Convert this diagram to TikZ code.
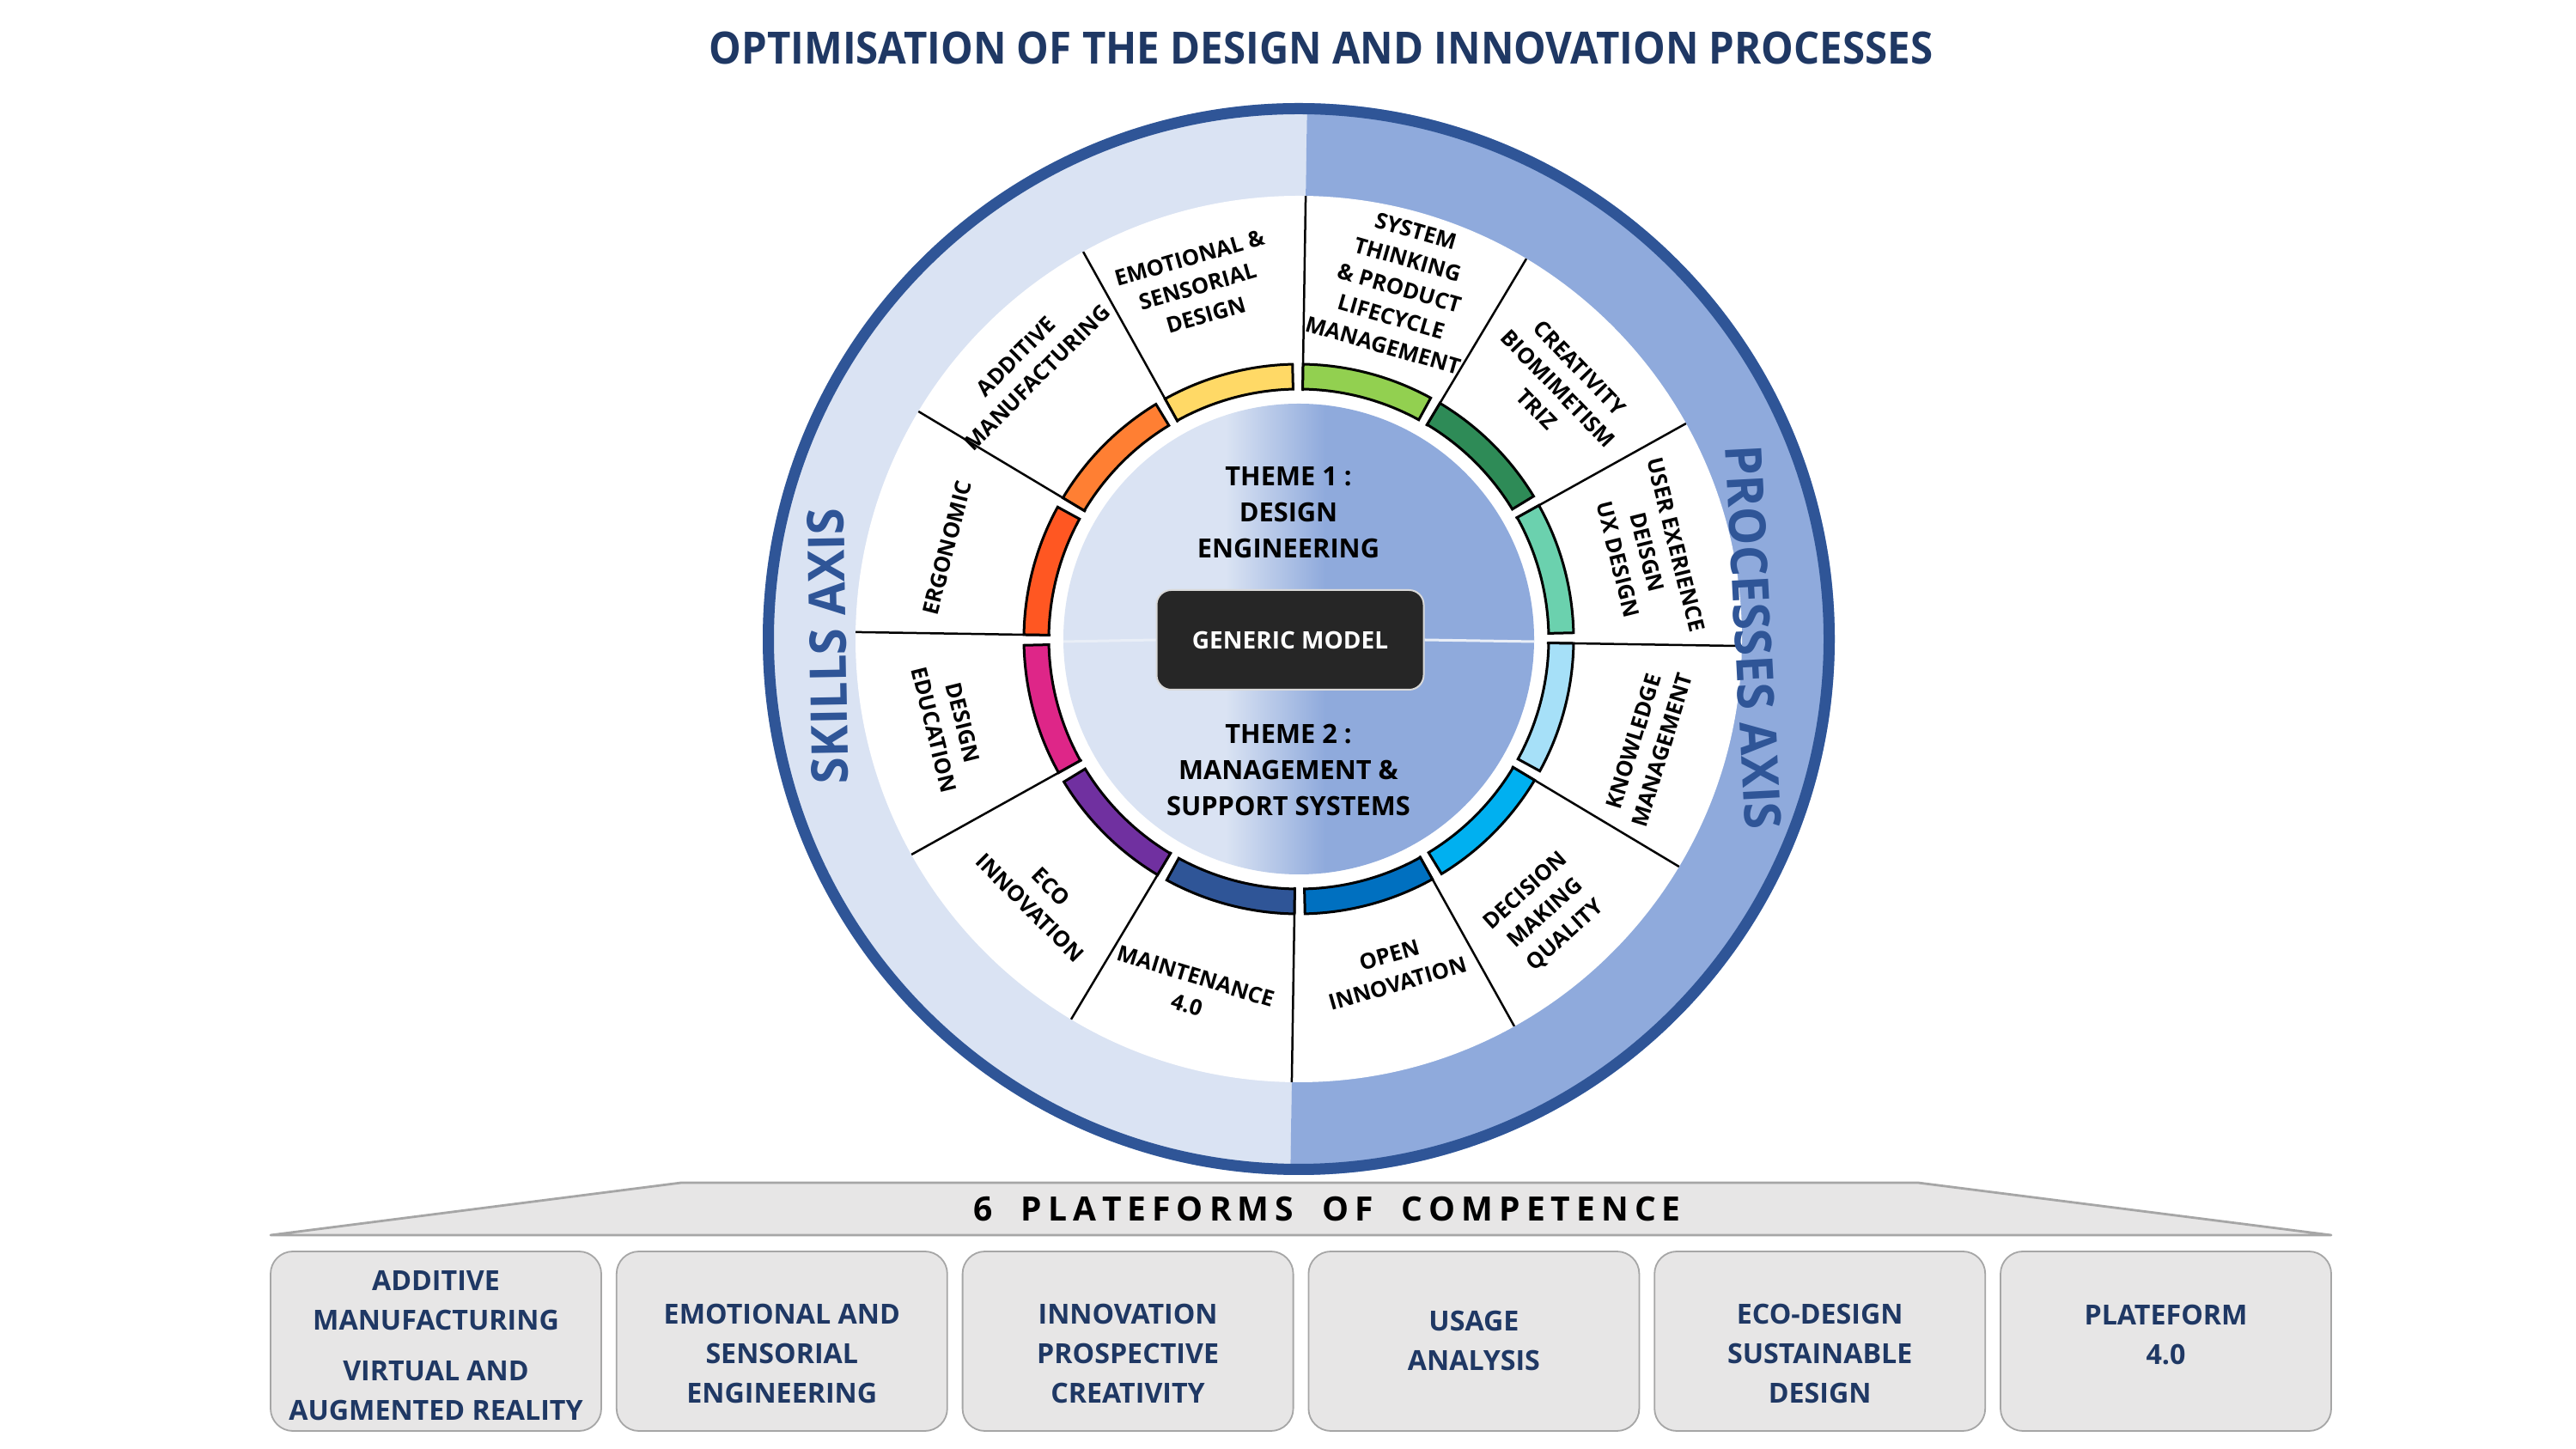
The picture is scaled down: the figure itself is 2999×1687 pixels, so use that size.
\documentclass[tikz,border=0pt]{standalone}
\usepackage{fontspec}
\setmainfont{Open Sans}
\usetikzlibrary{calc}
\definecolor{bandL}{HTML}{DAE3F3}
\definecolor{bandD}{HTML}{8FAADC}
\definecolor{rim}{HTML}{2F5597}
\definecolor{navy}{HTML}{1F3864}
\definecolor{boxfill}{HTML}{E7E6E6}
\definecolor{boxline}{HTML}{A6A6A6}
\definecolor{gmfill}{HTML}{262626}
\definecolor{gmline}{HTML}{D9D9D9}
\definecolor{diskline}{HTML}{E9EEF7}
\definecolor{cA}{HTML}{FFD966}
\definecolor{cB}{HTML}{92D050}
\definecolor{cC}{HTML}{2E8B57}
\definecolor{cD}{HTML}{6BD1AE}
\definecolor{cE}{HTML}{A6E0F8}
\definecolor{cF}{HTML}{00B0F0}
\definecolor{cG}{HTML}{0070C0}
\definecolor{cH}{HTML}{2F5597}
\definecolor{cI}{HTML}{7030A0}
\definecolor{cJ}{HTML}{DE2688}
\definecolor{cK}{HTML}{FF5722}
\definecolor{cL}{HTML}{FF7F33}
\makeatletter
\newcommand\spreadword[1]{\@tfor\sp@ch:=#1\do{\sp@ch\kern2pt}\kern-2pt}
\makeatother
\begin{document}
\begin{tikzpicture}[x=0.1mm,y=0.1mm,
  titlestyle/.style={inner sep=0pt, text=navy, font=\fontsize{14.74pt}{17pt}\selectfont\bfseries},
  seglbl/.style={align=center, inner sep=0pt, text=black, font=\fontsize{7.26pt}{9.87pt}\selectfont\bfseries},
  themelbl/.style={align=center, inner sep=0pt, text=black, font=\fontsize{8.76pt}{11.95pt}\selectfont\bfseries},
  gmbox/.style={fill=gmfill, draw=gmline, line width=0.2mm, rounded corners=1.7mm, minimum width=31.1mm, minimum height=11.6mm, inner sep=0pt, text=white, font=\fontsize{7.97pt}{9pt}\selectfont\bfseries},
  axislbl/.style={inner sep=0pt, text=rim, font=\fontsize{16.79pt}{18pt}\selectfont\bfseries},
  bannertxt/.style={inner sep=0pt, text=black, font=\fontsize{11.1pt}{13pt}\selectfont\bfseries},
  pbox/.style={fill=boxfill, draw=boxline, line width=0.18mm, rounded corners=2.6mm, minimum width=38.5mm, minimum height=20.9mm, inner sep=0pt},
  ptxt/.style={align=center, inner sep=0pt, text=navy, font=\fontsize{9.16pt}{13.09pt}\selectfont\bfseries},
  divider/.style={line width=0.25mm, black},
  arcseg/.style={line width=0.3mm, draw=black}
]
\useasboundingbox (0,0) rectangle (2999,1687);
\fill[white] (0,0) rectangle (2999,1687);

% title
\node[titlestyle] (title) at (1538,1631) {\scalebox{0.915}[1]{OPTIMISATION OF THE DESIGN AND INNOVATION PROCESSES}};

% wheel
\coordinate (C) at (1512,943);
\begin{scope}[shift={(C)}]
  \fill[bandL] (0,0) -- (89.1:624) arc[start angle=89.1,end angle=269.1,radius=624] -- cycle;
  \fill[bandD] (0,0) -- (-90.9:624) arc[start angle=-90.9,end angle=89.1,radius=624] -- cycle;
  \draw[rim, line width=1.3mm] (0,0) circle (617.5);
  \fill[white] (0,0) circle (516);
  \begin{scope}
    \clip (0,0) circle (274);
    \fill[bandL] (-280,-280) rectangle (-84,280);
    \shade[left color=bandL, right color=bandD] (-85,-280) rectangle (31,280);
    \fill[bandD] (30,-280) rectangle (280,280);
  \end{scope}
  \foreach \k/\col in {0/cD,1/cC,2/cB,3/cA,4/cL,5/cK,6/cJ,7/cI,8/cH,9/cG,10/cF,11/cE}{
    \pgfmathsetmacro\a{30*\k-0.9}
    \pgfmathsetmacro\b{\a+2.2}
    \pgfmathsetmacro\e{\a+30}
    \draw[arcseg, fill=\col] (\b:291) arc[start angle=\b,end angle=\e,radius=291] -- (\e:320) arc[start angle=\e,end angle=\b,radius=320] -- cycle;
  }
  \foreach \k in {0,...,11}{
    \pgfmathsetmacro\a{30*\k-0.9}
    \draw[divider] (\a:289) -- (\a:516);
  }
\end{scope}

% centre
\coordinate (dL) at (1238,940);
\coordinate (dR) at (1786,940);
\node[gmbox] (gm) at (1502,942) {GENERIC MODEL};
\draw[diskline, line width=0.3mm] (dL) -- (gm.west);
\draw[diskline, line width=0.3mm] (gm.east) -- (dR);
\node[themelbl] (th1) at (1500,1090) {THEME 1 :\\DESIGN\\ENGINEERING};
\node[themelbl] (th2) at (1500,790) {THEME 2 :\\MANAGEMENT \&\\SUPPORT SYSTEMS};

% segment labels
\foreach \n/\ang/\rad/\txt in {
  1/106/427/{EMOTIONAL \&\\SENSORIAL\\DESIGN},
  2/74/425/{SYSTEM\\THINKING\\\& PRODUCT\\LIFECYCLE\\MANAGEMENT},
  3/44/420/{CREATIVITY\\BIOMIMETISM\\TRIZ},
  4/14/418/{USER EXERIENCE\\DEISGN\\UX DESIGN},
  5/-17/425/{KNOWLEDGE\\MANAGEMENT},
  6/-48/430/{DECISION\\MAKING\\QUALITY},
  7/-74/400/{OPEN\\INNOVATION},
  8/-107/428/{MAINTENANCE\\4.0},
  9/-135/425/{ECO\\INNOVATION},
  10/-166/420/{DESIGN\\EDUCATION},
  11/165.5/423/{ERGONOMIC},
  12/135/448/{ADDITIVE\\MANUFACTURING}}{
  \pgfmathsetmacro\rot{\ang>0 ? \ang-90 : \ang+90}
  \node[seglbl, rotate=\rot] (seg\n) at ($(C)+(\ang:\rad)$) {\txt};
}

% axis labels
\node[axislbl, rotate=91] (skills) at (964,935) {\scalebox{0.95}[1]{SKILLS AXIS}};
\node[axislbl, rotate=-87] (procs) at (2041,945) {\scalebox{0.95}[1]{PROCESSES AXIS}};

% banner
\draw[boxline, fill=boxfill, line width=0.28mm, line join=round] (315,249) -- (793,310) -- (2233,310) -- (2714,249) -- cycle;
\node[bannertxt] (banner) at (1545,279) {\spreadword{6}\hspace{9.4pt}\spreadword{PLATEFORMS}\hspace{9.4pt}\spreadword{OF}\hspace{9.4pt}\spreadword{COMPETENCE}};

% platform boxes
\foreach \i in {1,...,6}{
  \node[pbox] (box\i) at ({507.5+402.8*(\i-1)},125.5) {};
}
\node[ptxt] (p1) at (507.5,120.5) {ADDITIVE\\MANUFACTURING\\[3.5pt]VIRTUAL AND\\AUGMENTED REALITY};
\node[ptxt] (p2) at (910.3,111) {EMOTIONAL AND\\SENSORIAL\\ENGINEERING};
\node[ptxt] (p3) at (1313.1,111) {INNOVATION\\PROSPECTIVE\\CREATIVITY};
\node[ptxt] (p4) at (1715.9,126) {USAGE\\ANALYSIS};
\node[ptxt] (p5) at (2118.7,111) {ECO-DESIGN\\SUSTAINABLE\\DESIGN};
\node[ptxt] (p6) at (2521.5,132.5) {PLATEFORM\\4.0};
\end{tikzpicture}
\end{document}
